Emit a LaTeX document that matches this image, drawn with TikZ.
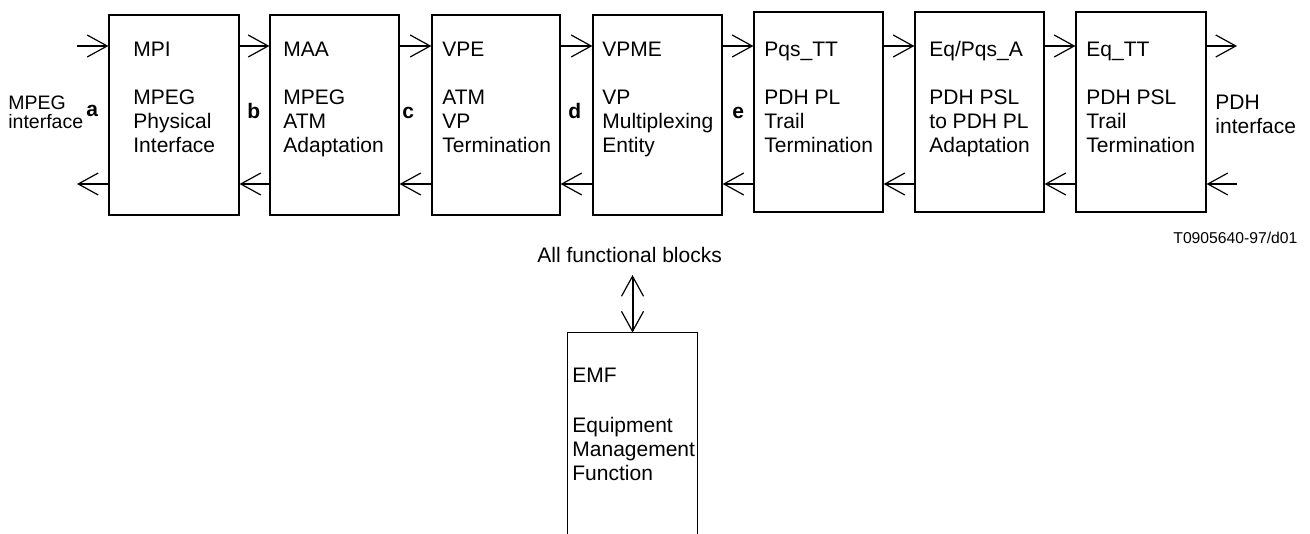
\documentclass[tikz,border=0pt]{standalone}
\usepackage{fontspec}
\setmainfont{Liberation Sans}
\usetikzlibrary{arrows.meta,fit}

% stacked text of a functional block: name, blank gap, three description lines
\newcommand\blocklines[4]{\begin{tabular}[t]{@{}l@{}}#1\\[12pt]#2\\#3\\#4\end{tabular}}

\begin{document}
\begin{tikzpicture}[x=0.5pt,y=-0.5pt,
  barb/.tip={Straight Barb[length=10pt,width=11pt,line width=0.6pt]},
  blk/.style={draw,line width=0.6pt,inner sep=0pt},
  txt/.style={anchor=base west,inner sep=0pt,font=\fontsize{10.5pt}{12pt}\selectfont},
  side/.style={anchor=base west,inner sep=0pt,font=\fontsize{9.75pt}{10pt}\selectfont},
  lab/.style={txt,font=\fontsize{10.5pt}{12pt}\selectfont\bfseries},
  sig/.style={line width=1pt,-barb},
  sig2/.style={line width=1pt,barb-barb}]

\useasboundingbox (0,0) rectangle (1310,534);

% signal levels of the forward and backward flows
\coordinate (up) at (0,46);
\coordinate (dn) at (0,184);

% functional blocks
\node[blk,fit={(109,15)(239,215)}]  (mpi)  {};
\node[blk,fit={(270,15)(399,215)}]  (maa)  {};
\node[blk,fit={(432,15)(560,215)}]  (vpe)  {};
\node[blk,fit={(593,15)(722,215)}]  (vpme) {};
\node[blk,fit={(754,12)(883,212)}]  (pqs)  {};
\node[blk,fit={(915,12)(1044,212)}] (eqa)  {};
\node[blk,fit={(1076,12)(1206,212)}] (eqt) {};

\node[txt] (mpiT)  at (133,57)  {\blocklines{MPI}{MPEG}{Physical}{Interface}};
\node[txt] (maaT)  at (283,57)  {\blocklines{MAA}{MPEG}{ATM}{Adaptation}};
\node[txt] (vpeT)  at (442,57)  {\blocklines{VPE}{ATM}{VP}{Termination}};
\node[txt] (vpmeT) at (602,57)  {\blocklines{VPME}{VP}{Multiplexing}{Entity}};
\node[txt] (pqsT)  at (764,57)  {\blocklines{Pqs\_TT}{PDH PL}{Trail}{Termination}};
\node[txt] (eqaT)  at (929,57)  {\blocklines{Eq/Pqs\_A}{PDH PSL}{to PDH PL}{Adaptation}};
\node[txt] (eqtT)  at (1086,57) {\blocklines{Eq\_TT}{PDH PSL}{Trail}{Termination}};

% reference points
\node[lab] (pa) at (86,117)  {a};
\node[lab] (pb) at (247,119) {b};
\node[lab] (pc) at (402,119) {c};
\node[lab] (pd) at (568,119) {d};
\node[lab] (pe) at (732,119) {e};

% interfaces at both ends
\node[side] (mpegA) at (8,110) {MPEG};
\node[side] (mpegB) at (8,129) {interface};
\node[txt] (pdh) at (1215,110) {\begin{tabular}[t]{@{}l@{}}PDH\\interface\end{tabular}};

\coordinate (inL)  at (77,46);
\coordinate (outL) at (77,184);
\coordinate (outR) at (1237,46);
\coordinate (inR)  at (1237,184);

% forward flow
\draw[sig] (inL) -- (mpi.west |- up);
\draw[sig] (mpi.east |- up)  -- (maa.west |- up);
\draw[sig] (maa.east |- up)  -- (vpe.west |- up);
\draw[sig] (vpe.east |- up)  -- (vpme.west |- up);
\draw[sig] (vpme.east |- up) -- (pqs.west |- up);
\draw[sig] (pqs.east |- up)  -- (eqa.west |- up);
\draw[sig] (eqa.east |- up)  -- (eqt.west |- up);
\draw[sig] (eqt.east |- up)  -- (outR);

% backward flow
\draw[sig] (inR) -- (eqt.east |- dn);
\draw[sig] (eqt.west |- dn)  -- (eqa.east |- dn);
\draw[sig] (eqa.west |- dn)  -- (pqs.east |- dn);
\draw[sig] (pqs.west |- dn)  -- (vpme.east |- dn);
\draw[sig] (vpme.west |- dn) -- (vpe.east |- dn);
\draw[sig] (vpe.west |- dn)  -- (maa.east |- dn);
\draw[sig] (maa.west |- dn)  -- (mpi.east |- dn);
\draw[sig] (mpi.west |- dn)  -- (outL);

% drawing reference
\node[anchor=base west,inner sep=0pt,font=\fontsize{7.85pt}{9pt}\selectfont] (ref) at (1173,243) {T0905640-97/d01};

% equipment management function, open towards the bottom
\node[inner sep=0pt,fit={(568,333)(697,545)}] (emf) {};
\draw[line width=0.6pt] (emf.south west) -- (emf.north west) -- (emf.north east) -- (emf.south east);
\node[txt] (emfT) at (572,382) {\begin{tabular}[t]{@{}l@{}}EMF\\[13pt]Equipment\\Management\\Function\end{tabular}};

\node[txt] (allfb) at (537,262) {All functional blocks};
\coordinate (fbtip) at (633,275);
\draw[sig2] (emf.north |- fbtip) -- (emf.north);

\end{tikzpicture}
\end{document}
